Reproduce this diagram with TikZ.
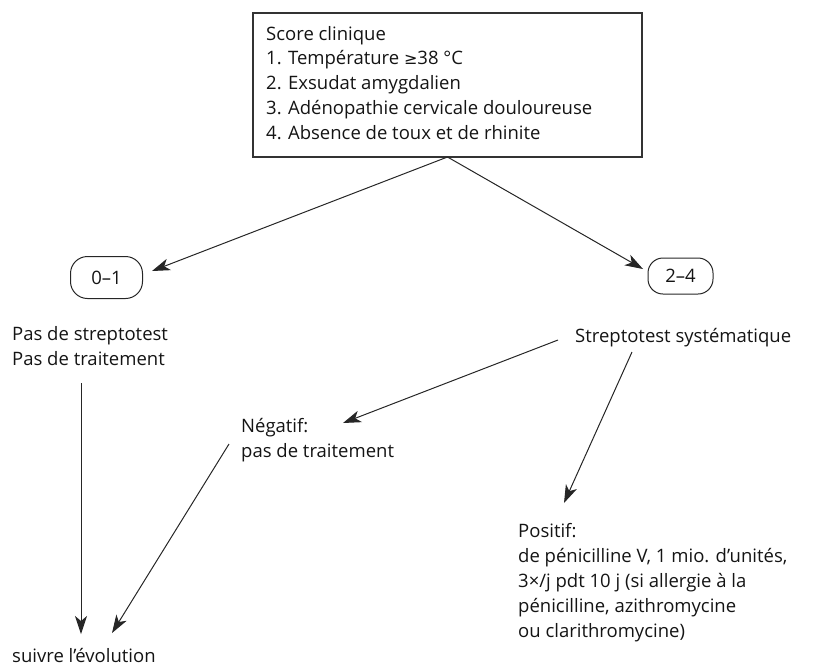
\documentclass[tikz,border=0pt]{standalone}
\usepackage{fontspec}
\setmainfont{Open Sans}
\newfontfamily\symfont{DejaVu Sans}
\usetikzlibrary{arrows.meta}
\begin{document}
\begin{tikzpicture}[x=1pt,y=-1pt,
  txt/.style={anchor=base west,inner sep=0pt,align=left,font=\fontsize{18.5}{24.8}\selectfont,text=black!92},
  arr/.style={draw=black!85,line width=1pt,-{Stealth[length=18pt,width=12pt,inset=5pt]}},
  ln/.style={draw=black!80,line width=1.2pt},
  pill/.style={draw=black!85,line width=1pt,inner sep=0pt,font=\fontsize{18.5}{22}\selectfont,text=black!92}]
\useasboundingbox (0,0) rectangle (822,667);
% top box
\draw[ln] (253,13) rectangle (642,157);
\node[txt] (t1) at (266,40) {Score clinique};
\node[txt] (t2) at (266,64.8) {1. Température {\symfont\fontsize{16}{20}\selectfont ≥}38 °C};
\node[txt] (t3) at (266,89.6) {2. Exsudat amygdalien};
\node[txt] (t4) at (266,114.4) {3. Adénopathie cervicale douloureuse};
\node[txt] (t5) at (266,139.2) {4. Absence de toux et de rhinite};
\coordinate (boxb) at (447.5,157);
% pills
\node[pill,rounded corners=17pt,minimum width=72pt,minimum height=42pt] (n01) at (106.5,277.5) {0–1};
\node[pill,rounded corners=15pt,minimum width=65pt,minimum height=36pt] (n24) at (680.5,276) {2–4};
\coordinate (n01e) at (152,271);
\coordinate (n24w) at (643,269);
\draw[arr] (boxb) -- (n01e);
\draw[arr] (boxb) -- (n24w);
% left branch
\node[txt] (pas) at (12,365) {Pas de streptotest\\Pas de traitement};
\coordinate (vtop) at (81,383);
\coordinate (vend) at (81,634);
\draw[arr] (vtop) -- (vend);
% streptotest
\node[txt] (strep) at (575,342) {Streptotest systématique};
\coordinate (s1) at (558,340);
\coordinate (negtip) at (343,423);
\draw[arr] (s1) -- (negtip);
\coordinate (s2) at (632,352);
\coordinate (postip) at (564,503);
\draw[arr] (s2) -- (postip);
% negatif
\node[txt] (neg) at (241,457) {Négatif:\\pas de traitement};
\coordinate (ng1) at (229,444);
\coordinate (ngtip) at (112,633);
\draw[arr] (ng1) -- (ngtip);
% positif
\node[txt] (pos) at (518,637) {Positif:\\de pénicilline V, 1 mio. d’unités,\\3×/j pdt 10 j (si allergie à la\\pénicilline, azithromycine\\ou clarithromycine)};
% suivre
\node[txt] (suiv) at (12,662) {suivre l’évolution};
\end{tikzpicture}
\end{document}
